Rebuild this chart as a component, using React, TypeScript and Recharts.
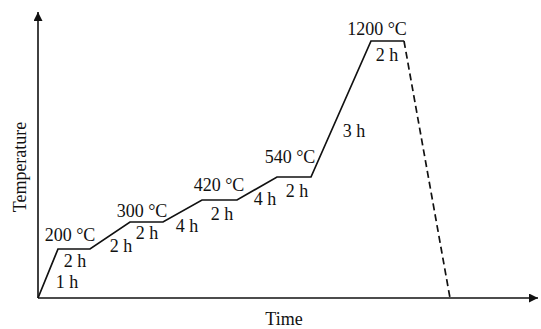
import { Label, Line, LineChart, ReferenceDot, XAxis, YAxis } from 'recharts';

// heating schedule, time (schematic) vs level (schematic)
const heatTimes = [0, 20, 52, 92, 125, 164, 199, 239, 273, 333, 366];
const heatLevels = [0, 49, 49, 76, 76, 98, 98, 121, 121, 257, 257];
const coolTimes = [366, 412];
const coolLevels = [257, 0];

const labelTexts = ['200 °C', '1 h', '2 h', '2 h', '300 °C', '2 h', '4 h', '420 °C', '2 h', '4 h', '540 °C', '2 h', '3 h', '1200 °C', '2 h'];
const labelTimes = [32, 29, 37, 83, 104, 109, 149, 181, 184, 227, 252, 259, 316, 339, 349];
const labelLevels = [63.4, 16.4, 37.4, 52.4, 87.4, 65.4, 72.4, 113.4, 84.4, 99.4, 141.4, 107.4, 167.4, 269.4, 243.4];

const heatData = heatTimes.map((t, i) => ({ t, level: heatLevels[i] }));
const coolData = coolTimes.map((t, i) => ({ t, level: coolLevels[i] }));

const font = '"Liberation Serif", "Times New Roman", serif';
const ink = '#111';

const App = () => {
    return (
        <div style={{ position: 'absolute', left: 0, top: 0 }}>
            <LineChart width={541} height={329} margin={{ top: 12, right: 3, left: 37, bottom: 30 }}>
                <defs>
                    <marker id="arrow" viewBox="0 0 10 10" refX={10} refY={5} markerUnits="userSpaceOnUse" markerWidth={11} markerHeight={9} orient="auto-start-reverse">
                        <path d="M0,0 L10,5 L0,10 z" fill={ink} />
                    </marker>
                </defs>
                <XAxis
                    type="number"
                    dataKey="t"
                    domain={[0, 500]}
                    height={1}
                    tick={false}
                    tickLine={false}
                    axisLine={{ stroke: ink, strokeWidth: 1.6, markerEnd: 'url(#arrow)' }}
                >
                    <Label value="Time" position="center" dx={-4} dy={20} fontFamily={font} fontSize={18} fill={ink} />
                </XAxis>
                <YAxis
                    type="number"
                    domain={[0, 286]}
                    width={1}
                    tick={false}
                    tickLine={false}
                    axisLine={{ stroke: ink, strokeWidth: 1.6, markerStart: 'url(#arrow)' }}
                >
                    <Label value="Temperature" position="center" angle={-90} dx={-18} dy={12} fontFamily={font} fontSize={18} fill={ink} />
                </YAxis>
                <Line data={heatData} dataKey="level" type="linear" stroke={ink} strokeWidth={1.7} dot={false} isAnimationActive={false} />
                <Line data={coolData} dataKey="level" type="linear" stroke={ink} strokeWidth={1.7} strokeDasharray="7 4" dot={false} isAnimationActive={false} />
                {labelTexts.map((text, i) => (
                    <ReferenceDot
                        key={i}
                        x={labelTimes[i]}
                        y={labelLevels[i]}
                        r={0}
                        fill="none"
                        stroke="none"
                        label={{ value: text, position: 'center', fontFamily: font, fontSize: 18, fill: ink }}
                    />
                ))}
            </LineChart>
        </div>
    );
};

export default App;
